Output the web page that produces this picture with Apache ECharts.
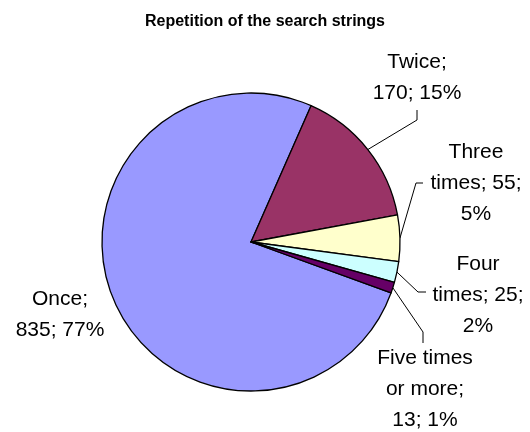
<!DOCTYPE html>
<html>
<head>
<meta charset="utf-8">
<title>Repetition of the search strings</title>
<script src="https://cdn.jsdelivr.net/npm/echarts@6/dist/echarts.min.js"></script>
<style>
  html, body { margin: 0; padding: 0; background: #fff; }
  #chart { width: 530px; height: 432px; }
</style>
</head>
<body>
<div id="chart"></div>
<script>
// How many times each search string was repeated
const categories = ['Once', 'Twice', 'Three times', 'Four times', 'Five times or more'];
const counts = [835, 170, 55, 25, 13];
const percentLabels = [77, 15, 5, 2, 1];

const sliceColors = ['#9999FF', '#993366', '#FFFFCC', '#CCFFFF', '#660066'];

const LABEL_FONT = '21px "Liberation Sans", Arial, sans-serif';
const LABEL_WRAP = 99;

// Where each label sits and how its leader line bends (index follows categories)
const labelPlacement = [
  { x: 60, y: 315, line: null },
  { x: 417, y: 78, line: p => [p, [417, 120], [417, 110]] },
  { x: 476, y: 183, line: p => [p, [416, 183], [423, 183]] },
  { x: 478, y: 295, line: p => [p, [418, 292], [426, 292]] },
  { x: 425, y: 389, line: p => [p, [423, 332], [423, 343]] }
];

// Greedy word wrap so that labels break between words only
const measureCtx = document.createElement('canvas').getContext('2d');
measureCtx.font = LABEL_FONT;
function wrapWords(text, maxWidth) {
  const words = text.split(' ');
  const lines = [];
  let line = '';
  words.forEach(w => {
    const candidate = line ? line + ' ' + w : w;
    if (line && measureCtx.measureText(candidate).width > maxWidth) {
      lines.push(line);
      line = w;
    } else {
      line = candidate;
    }
  });
  if (line) lines.push(line);
  return lines.join('\n');
}

const chart = echarts.init(document.getElementById('chart'), null, { renderer: 'canvas' });

chart.setOption({
  animation: false,
  backgroundColor: '#ffffff',
  title: {
    text: 'Repetition of the search strings',
    left: 'center',
    top: 9,
    textStyle: {
      fontFamily: 'Liberation Sans, Arial, sans-serif',
      fontSize: 16,
      fontWeight: 'bold',
      color: '#000'
    }
  },
  series: [{
    type: 'pie',
    center: [251, 242],
    radius: 149,
    startAngle: -20,
    clockwise: true,
    avoidLabelOverlap: false,
    data: categories.map((name, i) => ({
      name: name,
      value: counts[i],
      itemStyle: { color: sliceColors[i] },
      labelLine: { show: i !== 0 }
    })),
    itemStyle: { borderColor: '#000', borderWidth: 1.3 },
    label: {
      show: true,
      position: 'outside',
      formatter: p => wrapWords(`${p.name}; ${p.value}; ${percentLabels[p.dataIndex]}%`, LABEL_WRAP),
      align: 'center',
      fontFamily: 'Liberation Sans, Arial, sans-serif',
      fontSize: 21,
      lineHeight: 31,
      color: '#000'
    },
    labelLine: {
      show: true,
      length: 20,
      length2: 10,
      lineStyle: { color: '#000', width: 1 }
    },
    emphasis: { disabled: true },
    labelLayout: params => {
      const place = labelPlacement[params.dataIndex];
      const out = { x: place.x, y: place.y, align: 'center', verticalAlign: 'middle' };
      if (place.line && params.labelLinePoints) {
        out.labelLinePoints = place.line(params.labelLinePoints[0]);
      }
      return out;
    }
  }]
});
</script>
</body>
</html>
